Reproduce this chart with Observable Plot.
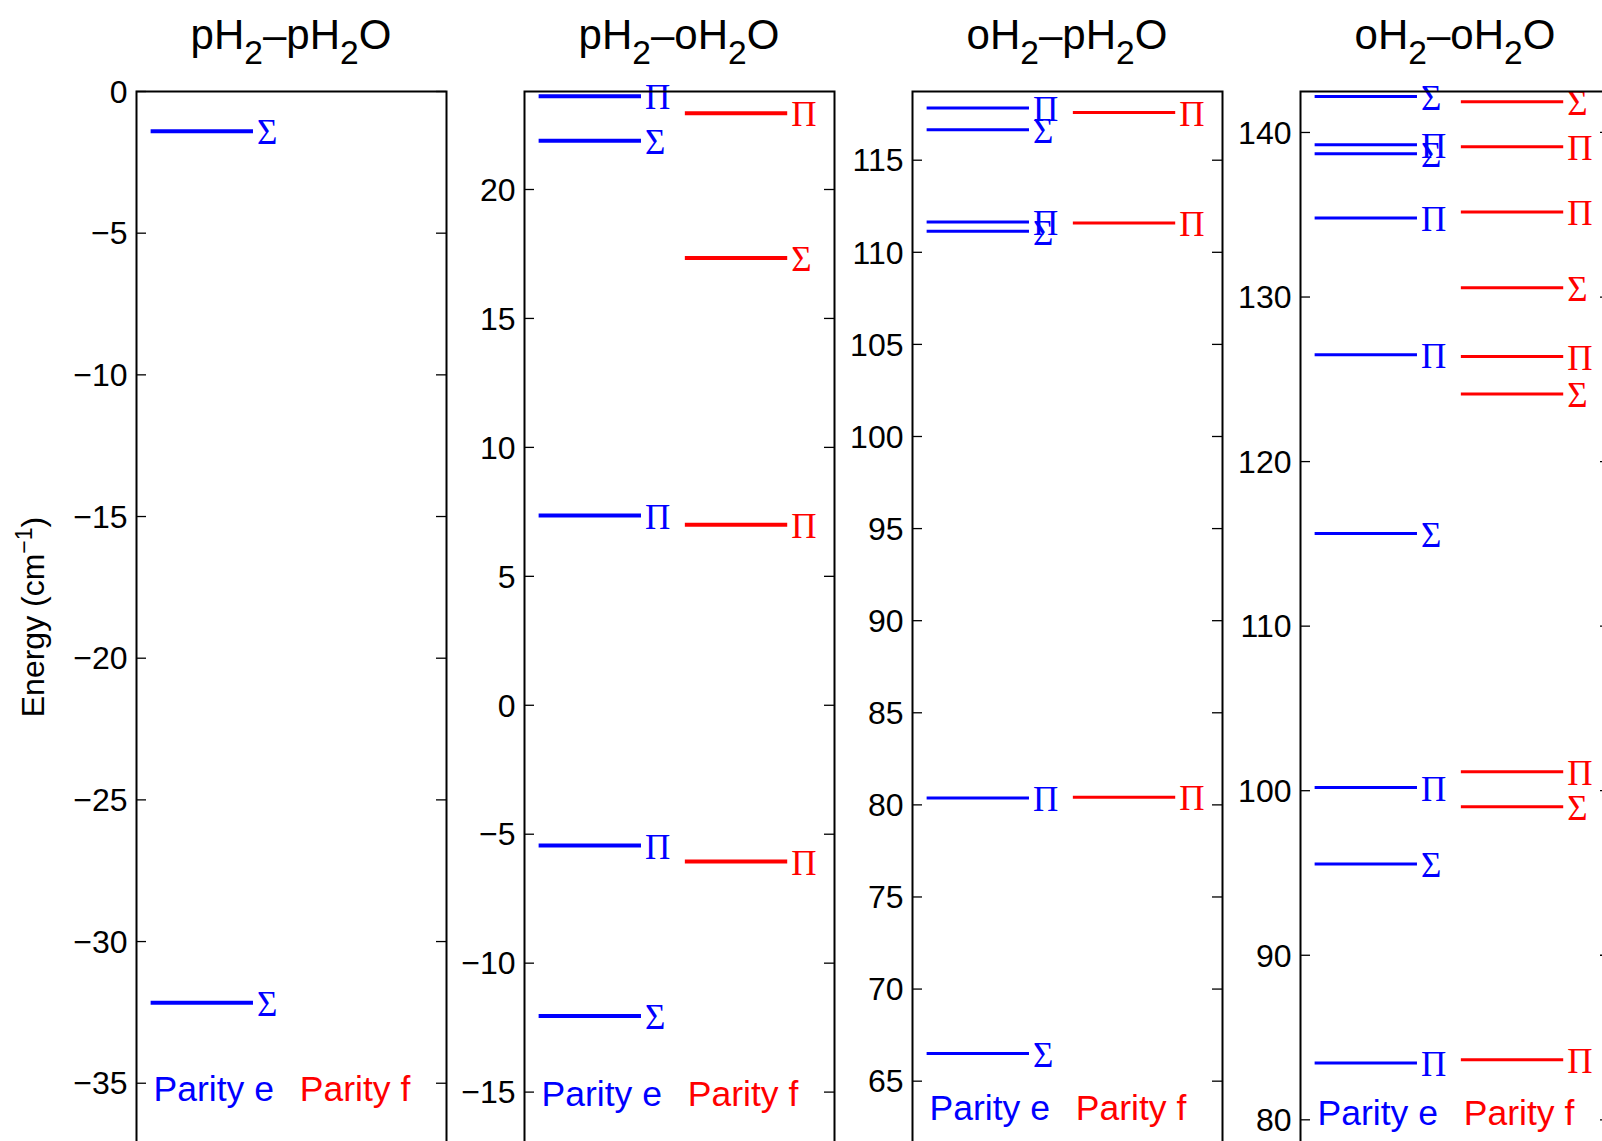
<!DOCTYPE html>
<html>
<head>
<meta charset="utf-8">
<script src="https://cdn.jsdelivr.net/npm/d3@7"></script>
<script src="https://cdn.jsdelivr.net/npm/@observablehq/plot@0.6"></script>
<style>
  html, body { margin: 0; padding: 0; background: #fff; overflow: hidden; }
  #chart { position: relative; width: 1602px; height: 1141px; overflow: hidden;
           font-family: "Liberation Sans", Arial, Helvetica, sans-serif; color: #000; background: #fff; }
  .title { position: absolute; top: 14px; width: 310px; text-align: center; font-size: 42px;
           line-height: 42px; white-space: nowrap; }
  .title sub { font-size: 0.8em; line-height: 0; vertical-align: -15px; }
  .ylabel { position: absolute; left: 33px; top: 617px; font-size: 32px; line-height: 32px; white-space: nowrap;
            transform: translate(-50%, -50%) rotate(-90deg); }
  .ylabel sup { font-size: 0.72em; line-height: 0; vertical-align: 12px; }
  .panel { position: absolute; top: 0; width: 420px; height: 1180px; }
  .panel svg { max-width: none !important; }
</style>
</head>
<body>
<div id="chart"></div>
<script>
// ---- data ----
const titles = ["pH2–pH2O", "pH2–oH2O", "oH2–pH2O", "oH2–oH2O"];
const yAxisLabel = "Energy (cm<sup>−1</sup>)";
const parityNames = ["Parity e", "Parity f"];

const levels_pH2_pH2O = [
  {parity: "e", state: "Σ", energy: -1.40},
  {parity: "e", state: "Σ", energy: -32.16}
];
const levels_pH2_oH2O = [
  {parity: "e", state: "Π", energy: 23.62},
  {parity: "e", state: "Σ", energy: 21.89},
  {parity: "e", state: "Π", energy: 7.36},
  {parity: "e", state: "Π", energy: -5.44},
  {parity: "e", state: "Σ", energy: -12.05},
  {parity: "f", state: "Π", energy: 22.96},
  {parity: "f", state: "Σ", energy: 17.34},
  {parity: "f", state: "Π", energy: 7.00},
  {parity: "f", state: "Π", energy: -6.06}
];
const levels_oH2_pH2O = [
  {parity: "e", state: "Π", energy: 117.83},
  {parity: "e", state: "Σ", energy: 116.66},
  {parity: "e", state: "Π", energy: 111.65},
  {parity: "e", state: "Σ", energy: 111.14},
  {parity: "e", state: "Π", energy: 80.38},
  {parity: "e", state: "Σ", energy: 66.50},
  {parity: "f", state: "Π", energy: 117.59},
  {parity: "f", state: "Π", energy: 111.59},
  {parity: "f", state: "Π", energy: 80.42}
];
const levels_oH2_oH2O = [
  {parity: "e", state: "Σ", energy: 142.19},
  {parity: "e", state: "Π", energy: 139.25},
  {parity: "e", state: "Σ", energy: 138.71},
  {parity: "e", state: "Π", energy: 134.80},
  {parity: "e", state: "Π", energy: 126.49},
  {parity: "e", state: "Σ", energy: 115.63},
  {parity: "e", state: "Π", energy: 100.20},
  {parity: "e", state: "Σ", energy: 95.54},
  {parity: "e", state: "Π", energy: 83.45},
  {parity: "f", state: "Σ", energy: 141.87},
  {parity: "f", state: "Π", energy: 139.13},
  {parity: "f", state: "Π", energy: 135.16},
  {parity: "f", state: "Σ", energy: 130.56},
  {parity: "f", state: "Π", energy: 126.39},
  {parity: "f", state: "Σ", energy: 124.10},
  {parity: "f", state: "Π", energy: 101.15},
  {parity: "f", state: "Σ", energy: 99.03},
  {parity: "f", state: "Π", energy: 83.65}
];
const panelLevels = [levels_pH2_pH2O, levels_pH2_oH2O, levels_oH2_pH2O, levels_oH2_oH2O];

const yDomains = [[-38.08, 0], [-18.04, 23.8], [60.15, 118.73], [76.92, 142.49]];
const yTicks = [
  [-35, -30, -25, -20, -15, -10, -5, 0],
  [-15, -10, -5, 0, 5, 10, 15, 20],
  [65, 70, 75, 80, 85, 90, 95, 100, 105, 110, 115],
  [80, 90, 100, 110, 120, 130, 140]
];
const parityLabelEnergy = [-35.62, -15.52, 62.9, 79.71];

// ---- layout / style ----
const parityColor = {e: "#0000ff", f: "#ff0000"};
const xStart = {e: 0.1, f: 1.1};
const xEnd = {e: 0.8, f: 1.8};
const lineWidths = [4, 4, 3, 3];
const frameLefts = [136, 524, 912, 1300];
const W = 310, ML = 100, MR = 10, MT = 91, MB = 10, H = 1180;
const fmt = d => (d < 0 ? "\u2212" + Math.abs(d) : String(d));

const chart = document.getElementById("chart");

const yl = document.createElement("div");
yl.className = "ylabel";
yl.innerHTML = yAxisLabel;
chart.appendChild(yl);

titles.forEach((t, i) => {
  const levels = panelLevels[i];
  const panel = document.createElement("div");
  panel.className = "panel";
  panel.style.left = (frameLefts[i] - ML) + "px";

  const svg = Plot.plot({
    width: ML + W + MR,
    height: H,
    marginLeft: ML, marginRight: MR, marginTop: MT, marginBottom: MB,
    x: {domain: [0, 2.12], axis: null},
    y: {domain: yDomains[i], axis: null},
    color: {type: "identity"},
    style: {background: "transparent", color: "#000", maxWidth: "none", overflow: "visible",
            fontFamily: "'Liberation Sans', Arial, Helvetica, sans-serif"},
    marks: [
      Plot.ruleY(levels, {
        x1: d => xStart[d.parity], x2: d => xEnd[d.parity], y: "energy",
        stroke: d => parityColor[d.parity], strokeWidth: lineWidths[i], strokeLinecap: "butt"
      }),
      Plot.text(levels, {
        x: d => xEnd[d.parity], y: "energy", text: "state",
        fill: d => parityColor[d.parity], textAnchor: "start", lineAnchor: "middle",
        dx: 3.5, dy: 2, fontSize: 35,
        fontFamily: "'Liberation Serif', 'Times New Roman', Times, serif"
      }),
      Plot.text(parityNames, {
        x: (d, j) => [xStart.e, xStart.f][j], y: () => parityLabelEnergy[i], text: d => d,
        fill: (d, j) => [parityColor.e, parityColor.f][j],
        textAnchor: "start", lineAnchor: "bottom", dx: 2.5, fontSize: 35.5
      }),
      Plot.tickY(yTicks[i], {y: d => d, insetRight: W - 10, stroke: "#000", strokeWidth: 1.3}),
      Plot.tickY(yTicks[i], {y: d => d, insetLeft: W - 10, stroke: "#000", strokeWidth: 1.3}),
      Plot.axisY(yTicks[i], {anchor: "left", label: null, tickSize: 0, tickPadding: 9, fontSize: 32,
                             tickFormat: fmt, dy: 1}),
      Plot.frame({stroke: "#000", strokeWidth: 2})
    ]
  });
  panel.appendChild(svg);
  chart.appendChild(panel);

  const title = document.createElement("div");
  title.className = "title";
  title.style.left = frameLefts[i] + "px";
  title.innerHTML = t.replace(/H2/g, "H<sub>2</sub>");
  chart.appendChild(title);
});
</script>
</body>
</html>
